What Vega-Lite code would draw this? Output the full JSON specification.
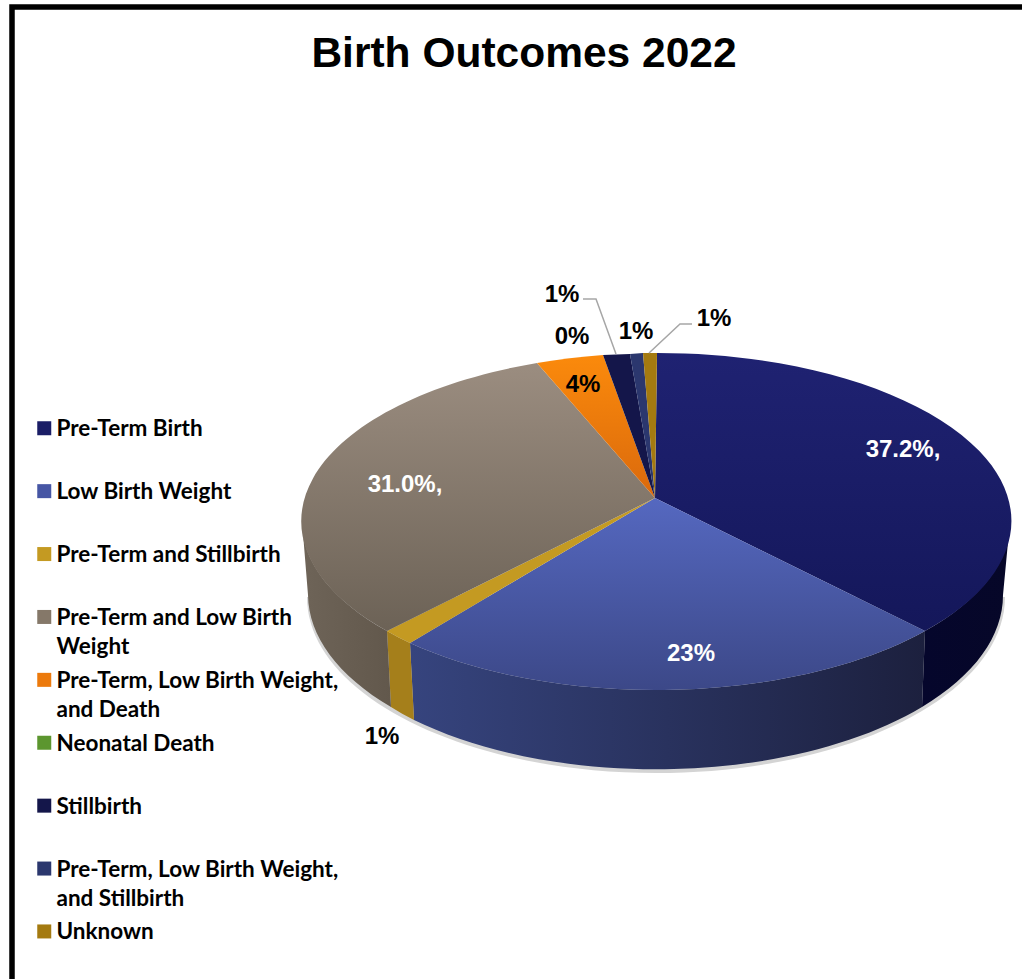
{"$schema":"https://vega.github.io/schema/vega-lite/v6.json","width":1030,"height":1030,"padding":{"left":12,"top":7,"right":0,"bottom":0},"autosize":{"type":"none"},"background":"white","view":{"stroke":"black","strokeWidth":5.5,"fill":"white"},"config":{"axis":{"disable":true}},"title":{"text":"Birth Outcomes 2022","font":"Liberation Sans","fontSize":42.5,"fontWeight":"bold","color":"black","anchor":"middle","frame":"group","dx":-3,"offset":-68},"data":{"values":[{"outcome":"Pre-Term Birth","share":37.2,"label":"37.2%,"},{"outcome":"Low Birth Weight","share":23,"label":"23%"},{"outcome":"Pre-Term and Stillbirth","share":1,"label":"1%"},{"outcome":"Pre-Term and Low Birth Weight","share":31.0,"label":"31.0%,"},{"outcome":"Pre-Term, Low Birth Weight, and Death","share":4,"label":"4%"},{"outcome":"Neonatal Death","share":0,"label":"0%"},{"outcome":"Stillbirth","share":1,"label":"1%"},{"outcome":"Pre-Term, Low Birth Weight, and Stillbirth","share":1,"label":"1%"},{"outcome":"Unknown","share":1,"label":"1%"}]},"layer":[{"mark":{"type":"point","filled":true,"opacity":1,"size":0,"strokeWidth":0},"encoding":{"x":{"datum":0,"type":"quantitative","scale":{"domain":[-643,387],"nice":false,"zero":false}},"y":{"datum":0,"type":"quantitative","scale":{"domain":[-491,539],"nice":false,"zero":false,"reverse":true}},"color":{"field":"outcome","scale":{"domain":["Pre-Term Birth","Low Birth Weight","Pre-Term and Stillbirth","Pre-Term and Low Birth Weight","Pre-Term, Low Birth Weight, and Death","Neonatal Death","Stillbirth","Pre-Term, Low Birth Weight, and Stillbirth","Unknown"],"range":["#1a1d66","#4656a4","#c49a22","#857869","#ec7a0c","#5c962f","#14164a","#2b376e","#a47a10"]},"legend":{"title":null,"orient":"none","legendX":21,"legendY":410,"symbolType":"square","symbolSize":196,"symbolStrokeWidth":0,"labelFont":"Lato","labelFontSize":22.5,"labelFontWeight":"bold","labelColor":"black","labelLimit":500,"labelOffset":1,"labelBaseline":"alphabetic","gridAlign":"all","rowPadding":9.9,"columns":1,"padding":0,"encoding":{"labels":{"dy":{"value":8},"lineHeight":{"value":29}}},"labelExpr":"datum.label=='Pre-Term and Low Birth Weight'?['Pre-Term and Low Birth','Weight']:datum.label=='Pre-Term, Low Birth Weight, and Death'?['Pre-Term, Low Birth Weight,','and Death']:datum.label=='Pre-Term, Low Birth Weight, and Stillbirth'?['Pre-Term, Low Birth Weight,','and Stillbirth']:datum.label"}}}},{"transform":[{"filter":{"field":"outcome","equal":"Pre-Term Birth"}}],"mark":{"type":"point","filled":true,"opacity":1,"size":4,"strokeWidth":0,"shape":"M-348 99A349 176 0 0 0 350 99Z","fill":"#d4d4d4"},"encoding":{"x":{"datum":0,"type":"quantitative"},"y":{"datum":0,"type":"quantitative"}}},{"transform":[{"filter":{"field":"outcome","equal":"Pre-Term Birth"}}],"mark":{"type":"point","filled":true,"opacity":1,"size":4,"strokeWidth":0,"shape":"M355 23A354 168 0 0 1 270 133L267 209A347 174 0 0 0 348 97Z","fill":{"gradient":"linear","x1":0,"y1":0,"x2":1,"y2":0,"stops":[{"offset":0,"color":"#05062c"},{"offset":1,"color":"#060728"}]}},"encoding":{"x":{"datum":0,"type":"quantitative"},"y":{"datum":0,"type":"quantitative"}}},{"transform":[{"filter":{"field":"outcome","equal":"Low Birth Weight"}}],"mark":{"type":"point","filled":true,"opacity":1,"size":4,"strokeWidth":0,"shape":"M270 133A354 168 0 0 1 -245 145L-241 222A347 174 0 0 0 267 209Z","fill":{"gradient":"linear","x1":0,"y1":0,"x2":1,"y2":0,"stops":[{"offset":0,"color":"#36447e"},{"offset":1,"color":"#1c203e"}]}},"encoding":{"x":{"datum":0,"type":"quantitative"},"y":{"datum":0,"type":"quantitative"}}},{"transform":[{"filter":{"field":"outcome","equal":"Pre-Term and Stillbirth"}}],"mark":{"type":"point","filled":true,"opacity":1,"size":4,"strokeWidth":0,"shape":"M-245 145A354 168 0 0 1 -268 133L-264 209A347 174 0 0 0 -241 222Z","fill":"#a57f1b"},"encoding":{"x":{"datum":0,"type":"quantitative"},"y":{"datum":0,"type":"quantitative"}}},{"transform":[{"filter":{"field":"outcome","equal":"Pre-Term and Low Birth Weight"}}],"mark":{"type":"point","filled":true,"opacity":1,"size":4,"strokeWidth":0,"shape":"M-268 133A354 168 0 0 1 -353 23L-347 97A347 174 0 0 0 -264 209Z","fill":{"gradient":"linear","x1":0,"y1":0,"x2":1,"y2":0,"stops":[{"offset":0,"color":"#6e6458"},{"offset":1,"color":"#62584c"}]}},"encoding":{"x":{"datum":0,"type":"quantitative"},"y":{"datum":0,"type":"quantitative"}}},{"transform":[{"filter":{"field":"outcome","equal":"Pre-Term Birth"}}],"mark":{"type":"point","filled":true,"opacity":1,"size":4,"strokeWidth":0,"shape":"M0 0L2 -145A354 168 0 0 1 270 133Z","fill":{"gradient":"linear","x1":0,"y1":0,"x2":0,"y2":1,"stops":[{"offset":0,"color":"#1f2272"},{"offset":1,"color":"#14175a"}]}},"encoding":{"x":{"datum":0,"type":"quantitative"},"y":{"datum":0,"type":"quantitative"}}},{"transform":[{"filter":{"field":"outcome","equal":"Low Birth Weight"}}],"mark":{"type":"point","filled":true,"opacity":1,"size":4,"strokeWidth":0,"shape":"M0 0L270 133A354 168 0 0 1 -245 145Z","fill":{"gradient":"linear","x1":0,"y1":0,"x2":0,"y2":1,"stops":[{"offset":0,"color":"#5568c0"},{"offset":1,"color":"#3c4888"}]}},"encoding":{"x":{"datum":0,"type":"quantitative"},"y":{"datum":0,"type":"quantitative"}}},{"transform":[{"filter":{"field":"outcome","equal":"Pre-Term and Stillbirth"}}],"mark":{"type":"point","filled":true,"opacity":1,"size":4,"strokeWidth":0,"shape":"M0 0L-245 145A354 168 0 0 1 -268 133Z","fill":"#c49a22"},"encoding":{"x":{"datum":0,"type":"quantitative"},"y":{"datum":0,"type":"quantitative"}}},{"transform":[{"filter":{"field":"outcome","equal":"Pre-Term and Low Birth Weight"}}],"mark":{"type":"point","filled":true,"opacity":1,"size":4,"strokeWidth":0,"shape":"M0 0L-268 133A354 168 0 0 1 -118 -135Z","fill":{"gradient":"linear","x1":0,"y1":0,"x2":0,"y2":1,"stops":[{"offset":0,"color":"#9b8d80"},{"offset":1,"color":"#6c6256"}]}},"encoding":{"x":{"datum":0,"type":"quantitative"},"y":{"datum":0,"type":"quantitative"}}},{"transform":[{"filter":{"field":"outcome","equal":"Pre-Term, Low Birth Weight, and Death"}}],"mark":{"type":"point","filled":true,"opacity":1,"size":4,"strokeWidth":0,"shape":"M0 0L-118 -135A354 168 0 0 1 -52 -143Z","fill":{"gradient":"linear","x1":0,"y1":0,"x2":0,"y2":1,"stops":[{"offset":0,"color":"#fb8a0c"},{"offset":1,"color":"#da690c"}]}},"encoding":{"x":{"datum":0,"type":"quantitative"},"y":{"datum":0,"type":"quantitative"}}},{"transform":[{"filter":{"field":"outcome","equal":"Stillbirth"}}],"mark":{"type":"point","filled":true,"opacity":1,"size":4,"strokeWidth":0,"shape":"M0 0L-52 -143A354 168 0 0 1 -25 -144Z","fill":"#14164a"},"encoding":{"x":{"datum":0,"type":"quantitative"},"y":{"datum":0,"type":"quantitative"}}},{"transform":[{"filter":{"field":"outcome","equal":"Pre-Term, Low Birth Weight, and Stillbirth"}}],"mark":{"type":"point","filled":true,"opacity":1,"size":4,"strokeWidth":0,"shape":"M0 0L-25 -144A354 168 0 0 1 -12 -145Z","fill":"#2b376e"},"encoding":{"x":{"datum":0,"type":"quantitative"},"y":{"datum":0,"type":"quantitative"}}},{"transform":[{"filter":{"field":"outcome","equal":"Unknown"}}],"mark":{"type":"point","filled":true,"opacity":1,"size":4,"strokeWidth":0,"shape":"M0 0L-12 -145A354 168 0 0 1 2 -145Z","fill":"#a47a10"},"encoding":{"x":{"datum":0,"type":"quantitative"},"y":{"datum":0,"type":"quantitative"}}},{"transform":[{"filter":{"field":"outcome","equal":"Stillbirth"}}],"mark":{"type":"point","filled":false,"opacity":1,"size":4,"strokeWidth":1.5,"stroke":"#a6a6a6","shape":"M-72 -199L-59 -199L-39 -144"},"encoding":{"x":{"datum":0,"type":"quantitative"},"y":{"datum":0,"type":"quantitative"}}},{"transform":[{"filter":{"field":"outcome","equal":"Unknown"}}],"mark":{"type":"point","filled":false,"opacity":1,"size":4,"strokeWidth":1.5,"stroke":"#a6a6a6","shape":"M37 -174L25 -174L-6 -145"},"encoding":{"x":{"datum":0,"type":"quantitative"},"y":{"datum":0,"type":"quantitative"}}},{"transform":[{"filter":{"field":"outcome","equal":"Pre-Term Birth"}}],"mark":{"type":"text","font":"Liberation Sans","fontSize":24,"fontWeight":"bold","color":"white"},"encoding":{"text":{"field":"label"},"x":{"datum":248,"type":"quantitative"},"y":{"datum":-48,"type":"quantitative"}}},{"transform":[{"filter":{"field":"outcome","equal":"Low Birth Weight"}}],"mark":{"type":"text","font":"Liberation Sans","fontSize":24,"fontWeight":"bold","color":"white"},"encoding":{"text":{"field":"label"},"x":{"datum":36,"type":"quantitative"},"y":{"datum":156,"type":"quantitative"}}},{"transform":[{"filter":{"field":"outcome","equal":"Pre-Term and Stillbirth"}}],"mark":{"type":"text","font":"Liberation Sans","fontSize":24,"fontWeight":"bold","color":"black"},"encoding":{"text":{"field":"label"},"x":{"datum":-273,"type":"quantitative"},"y":{"datum":239,"type":"quantitative"}}},{"transform":[{"filter":{"field":"outcome","equal":"Pre-Term and Low Birth Weight"}}],"mark":{"type":"text","font":"Liberation Sans","fontSize":24,"fontWeight":"bold","color":"white"},"encoding":{"text":{"field":"label"},"x":{"datum":-250,"type":"quantitative"},"y":{"datum":-13,"type":"quantitative"}}},{"transform":[{"filter":{"field":"outcome","equal":"Pre-Term, Low Birth Weight, and Death"}}],"mark":{"type":"text","font":"Liberation Sans","fontSize":24,"fontWeight":"bold","color":"black"},"encoding":{"text":{"field":"label"},"x":{"datum":-72,"type":"quantitative"},"y":{"datum":-113,"type":"quantitative"}}},{"transform":[{"filter":{"field":"outcome","equal":"Neonatal Death"}}],"mark":{"type":"text","font":"Liberation Sans","fontSize":24,"fontWeight":"bold","color":"black"},"encoding":{"text":{"field":"label"},"x":{"datum":-83,"type":"quantitative"},"y":{"datum":-161,"type":"quantitative"}}},{"transform":[{"filter":{"field":"outcome","equal":"Stillbirth"}}],"mark":{"type":"text","font":"Liberation Sans","fontSize":24,"fontWeight":"bold","color":"black"},"encoding":{"text":{"field":"label"},"x":{"datum":-93,"type":"quantitative"},"y":{"datum":-203,"type":"quantitative"}}},{"transform":[{"filter":{"field":"outcome","equal":"Pre-Term, Low Birth Weight, and Stillbirth"}}],"mark":{"type":"text","font":"Liberation Sans","fontSize":24,"fontWeight":"bold","color":"black"},"encoding":{"text":{"field":"label"},"x":{"datum":-19,"type":"quantitative"},"y":{"datum":-166,"type":"quantitative"}}},{"transform":[{"filter":{"field":"outcome","equal":"Unknown"}}],"mark":{"type":"text","font":"Liberation Sans","fontSize":24,"fontWeight":"bold","color":"black"},"encoding":{"text":{"field":"label"},"x":{"datum":59,"type":"quantitative"},"y":{"datum":-179,"type":"quantitative"}}}]}
